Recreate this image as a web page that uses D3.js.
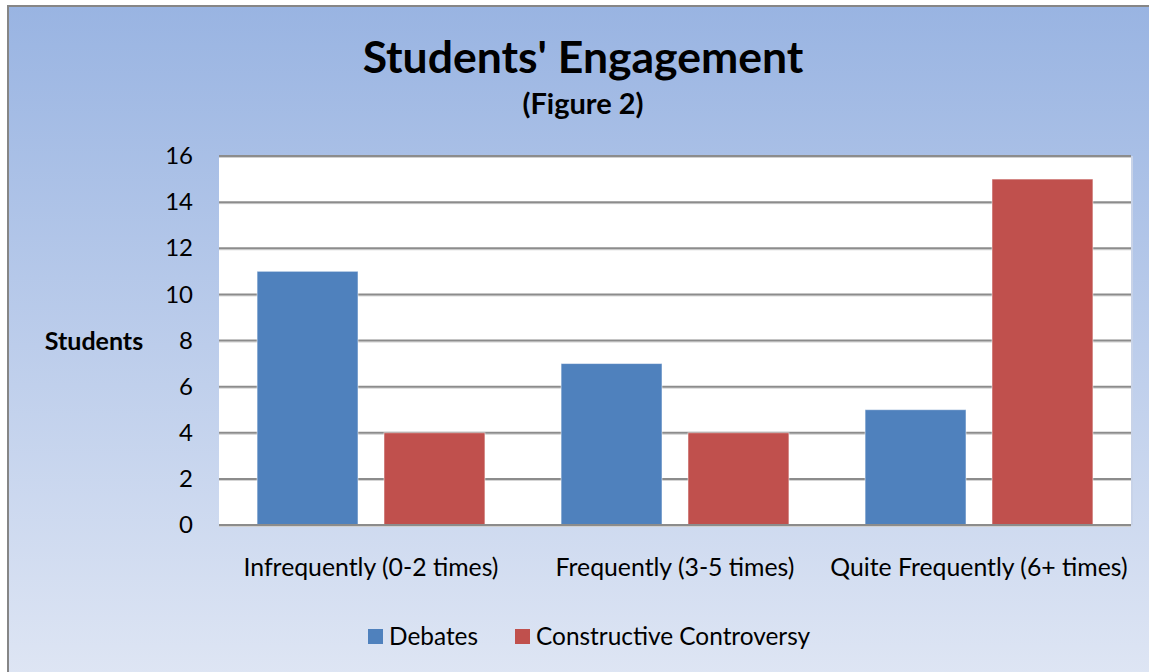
<!DOCTYPE html>
<html>
<head>
<meta charset="utf-8">
<script src="https://d3js.org/d3.v7.min.js"></script>
<style>
  body { margin: 0; background: #ffffff; }
  svg { display: block; font-family: Lato, "Open Sans", sans-serif; }
</style>
</head>
<body>
<svg width="1149" height="672"></svg>
<script>
// chart data
var categories = ["Infrequently (0-2 times)", "Frequently (3-5 times)", "Quite Frequently (6+ times)"];
var seriesNames = ["Debates", "Constructive Controversy"];
var debates = [11, 7, 5];
var controversy = [4, 4, 15];
var yTicks = [0, 2, 4, 6, 8, 10, 12, 14, 16];
var colors = ["#4f81bd", "#c0504d"];

var svg = d3.select("svg");

// background gradient
var defs = svg.append("defs");
var grad = defs.append("linearGradient")
	.attr("id", "bg")
	.attr("x1", 0).attr("y1", 0).attr("x2", 0).attr("y2", 1);
grad.append("stop").attr("offset", "0%").attr("stop-color", "#99b4e2");
grad.append("stop").attr("offset", "100%").attr("stop-color", "#dfe6f4");

svg.append("rect")
	.attr("x", 8).attr("y", 6)
	.attr("width", 1160).attr("height", 680)
	.attr("fill", "url(#bg)")
	.attr("stroke", "#868686")
	.attr("stroke-width", 2);

var plot = { left: 219, right: 1131, top: 156, bottom: 525 };

var x0 = d3.scaleBand()
	.domain(categories)
	.range([plot.left, plot.right])
	.paddingInner(0)
	.paddingOuter(0);

var x1 = d3.scaleBand()
	.domain(seriesNames)
	.range([0, x0.bandwidth()])
	.paddingInner(0.205)
	.paddingOuter(0.3);

var y = d3.scaleLinear()
	.domain([0, 16])
	.range([plot.bottom, plot.top]);

// plot area
svg.append("rect")
	.attr("x", plot.left).attr("y", plot.top)
	.attr("width", plot.right - plot.left)
	.attr("height", plot.bottom - plot.top)
	.attr("fill", "#ffffff");

// gridlines
var grid = svg.append("g").attr("class", "grid");
grid.selectAll("line.shadow")
	.data(yTicks)
	.enter()
	.append("line")
	.attr("class", "shadow")
	.attr("x1", plot.left).attr("x2", plot.right)
	.attr("y1", function(d) { return y(d) + 1.5; })
	.attr("y2", function(d) { return y(d) + 1.5; })
	.style("stroke", "#d0d0d0")
	.style("stroke-width", "1px");
grid.selectAll("line.main")
	.data(yTicks)
	.enter()
	.append("line")
	.attr("class", "main")
	.attr("x1", plot.left).attr("x2", plot.right)
	.attr("y1", function(d) { return y(d); })
	.attr("y2", function(d) { return y(d); })
	.style("stroke", "#8c8c8c")
	.style("stroke-width", "2px");

// right edge shadow of plot area
svg.append("line")
	.attr("x1", plot.right + 1).attr("x2", plot.right + 1)
	.attr("y1", plot.top).attr("y2", plot.bottom)
	.style("stroke", "#c8d3e8")
	.style("stroke-width", "2px");

// bars
var rows = categories.map(function(c, i) {
	return { cat: c, values: [debates[i], controversy[i]] };
});

var groups = svg.append("g")
	.selectAll("g")
	.data(rows)
	.enter()
	.append("g")
	.attr("transform", function(d) { return "translate(" + x0(d.cat) + ",0)"; });

groups.selectAll("rect")
	.data(function(d) {
		return d.values.map(function(v, j) { return { name: seriesNames[j], value: v, idx: j }; });
	})
	.enter()
	.append("rect")
	.attr("x", function(d) { return x1(d.name); })
	.attr("y", function(d) { return y(d.value); })
	.attr("width", x1.bandwidth())
	.attr("height", function(d) { return y(0) - y(d.value); })
	.style("fill", function(d) { return colors[d.idx]; })
	.style("stroke", "rgba(255,255,255,0.5)")
	.style("stroke-width", "1px");

// redraw baseline on top
svg.append("line")
	.attr("x1", plot.left).attr("x2", plot.right)
	.attr("y1", y(0)).attr("y2", y(0))
	.style("stroke", "#8c8c8c")
	.style("stroke-width", "2px");

// y axis labels
var yAxis = d3.axisLeft(y).tickValues(yTicks).tickSize(0).tickPadding(26);
var yg = svg.append("g")
	.attr("transform", "translate(" + plot.left + ",0)")
	.call(yAxis);
yg.select(".domain").remove();
yg.selectAll("text")
	.style("font-family", "Lato, sans-serif")
	.style("font-size", "24px")
	.style("fill", "#000");

// x axis labels
var xAxis = d3.axisBottom(x0).tickSize(0).tickPadding(33);
var xg = svg.append("g")
	.attr("transform", "translate(0," + plot.bottom + ")")
	.call(xAxis);
xg.select(".domain").remove();
xg.selectAll("text")
	.style("font-family", "Lato, sans-serif")
	.style("font-size", "24.8px")
	.style("fill", "#000");

// titles
svg.append("text")
	.attr("x", 583).attr("y", 73)
	.attr("text-anchor", "middle")
	.style("font-size", "44.5px")
	.style("font-weight", "bold")
	.text("Students' Engagement");

svg.append("text")
	.attr("x", 583).attr("y", 114)
	.attr("text-anchor", "middle")
	.style("font-size", "29px")
	.style("font-weight", "bold")
	.text("(Figure 2)");

svg.append("text")
	.attr("x", 94).attr("y", 350)
	.attr("text-anchor", "middle")
	.style("font-size", "25px")
	.style("font-weight", "bold")
	.text("Students");

// legend
var legendX = [368, 515];
var legend = svg.append("g")
	.selectAll("g")
	.data(seriesNames)
	.enter()
	.append("g")
	.attr("transform", function(d, i) { return "translate(" + legendX[i] + ",629)"; });

legend.append("rect")
	.attr("width", 15).attr("height", 15)
	.style("fill", function(d, i) { return colors[i]; });

legend.append("text")
	.attr("x", 21).attr("y", 16)
	.style("font-size", "24.4px")
	.text(function(d) { return d; });
</script>
</body>
</html>
